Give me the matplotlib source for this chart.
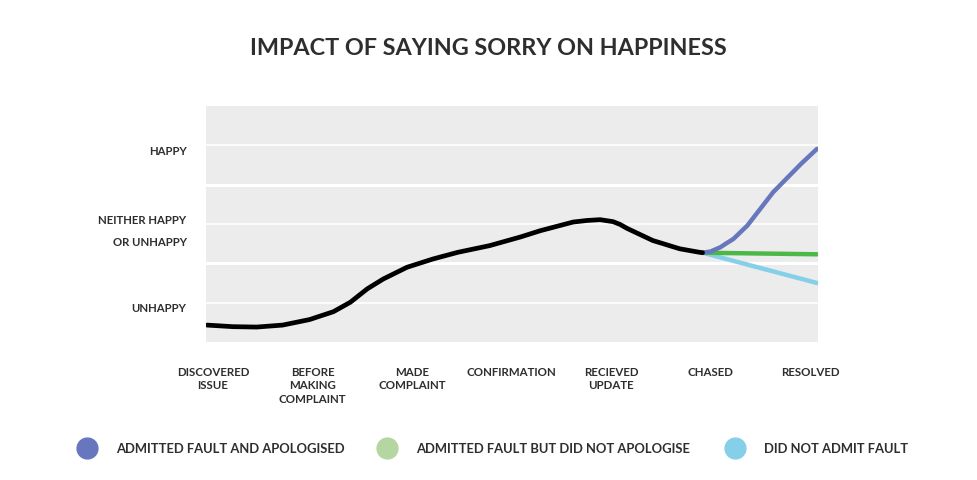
import matplotlib.pyplot as plt
from matplotlib.lines import Line2D

# categories along the journey
stages = ['DISCOVERED\nISSUE', 'BEFORE\nMAKING\nCOMPLAINT', 'MADE\nCOMPLAINT', 'CONFIRMATION',
          'RECIEVED\nUPDATE', 'CHASED', 'RESOLVED']
mood_labels = ['UNHAPPY', 'NEITHER HAPPY\nOR UNHAPPY', 'HAPPY']
mood_ticks = [0.9, 3.0, 4.9]

# shared path before being chased (x = stage position, y = happiness)
common_x = [-0.06, 0.20, 0.44, 0.70, 0.97, 1.21, 1.38, 1.55, 1.71, 1.95, 2.21, 2.46,
            2.78, 3.09, 3.29, 3.62, 3.76, 3.89, 4.02, 4.09, 4.16, 4.42, 4.69, 4.89, 4.92]
common_y = [0.43, 0.39, 0.38, 0.43, 0.57, 0.77, 1.01, 1.35, 1.60, 1.90, 2.11, 2.28,
            2.45, 2.67, 2.83, 3.05, 3.09, 3.11, 3.06, 2.99, 2.89, 2.58, 2.37, 2.28, 2.27]

apol_x = [4.92, 5.00, 5.10, 5.16, 5.23, 5.37, 5.63, 5.91, 6.07]
apol_y = [2.27, 2.30, 2.41, 2.51, 2.62, 2.96, 3.81, 4.53, 4.91]
noapol_x = [4.92, 6.07]
noapol_y = [2.27, 2.23]
noadmit_x = [4.92, 6.07]
noadmit_y = [2.27, 1.50]

series = ['ADMITTED FAULT AND APOLOGISED', 'ADMITTED FAULT BUT DID NOT APOLOGISE', 'DID NOT ADMIT FAULT']
line_colors = ['#6877bd', '#4cb848', '#86cfe8']
dot_colors = ['#6877bd', '#b4d6a0', '#86cfe8']

plt.rcParams['font.family'] = ['Lato', 'DejaVu Sans']
text_col = '#2e2e2e'

fig = plt.figure(figsize=(9.77, 4.81), dpi=100)
ax = fig.add_axes([206 / 977, 138 / 481, 612 / 977, 236 / 481])
ax.set_facecolor('#ececec')
for s in ax.spines.values():
    s.set_visible(False)

for g in range(1, 6):
    ax.axhline(g, color='white', lw=2.2 if g in (2, 4) else 1.2, zorder=1)

ax.plot(noadmit_x, noadmit_y, color=line_colors[2], lw=3.2, solid_capstyle='round', zorder=3)
ax.plot(noapol_x, noapol_y, color=line_colors[1], lw=3.2, solid_capstyle='round', zorder=4)
ax.plot(apol_x, apol_y, color=line_colors[0], lw=3.2, solid_capstyle='round',
        solid_joinstyle='round', zorder=5)
ax.plot(common_x, common_y, color='black', lw=3.4, solid_capstyle='round',
        solid_joinstyle='round', zorder=6)

ax.set_xlim(-0.07, 6.08)
ax.set_ylim(0, 6)
ax.set_xticks(range(len(stages)))
ax.set_xticklabels(stages, fontsize=8.3, fontweight='bold', color=text_col, linespacing=1.3)
ax.set_yticks(mood_ticks)
ax.set_yticklabels(mood_labels, fontsize=8.2, fontweight='bold', color=text_col, linespacing=2.2)
ax.tick_params(axis='x', length=0, pad=17)
ax.tick_params(axis='y', length=0, pad=14)

fig.text(0.5, 0.9, 'IMPACT OF SAYING SORRY ON HAPPINESS', ha='center', va='center',
         fontsize=16.8, fontweight='bold', color=text_col)

# legend row
dot_x = [87 / 977, 387 / 977, 735 / 977]
for i, name in enumerate(series):
    fig.add_artist(Line2D([dot_x[i]], [32 / 481], marker='o', markersize=15,
                          color=dot_colors[i], linestyle='none', transform=fig.transFigure))
    fig.text(dot_x[i] + 29 / 977, 32 / 481, name, ha='left', va='center',
             fontsize=9.4, fontweight='bold', color=text_col)

fig.savefig('out.png', dpi=100)
